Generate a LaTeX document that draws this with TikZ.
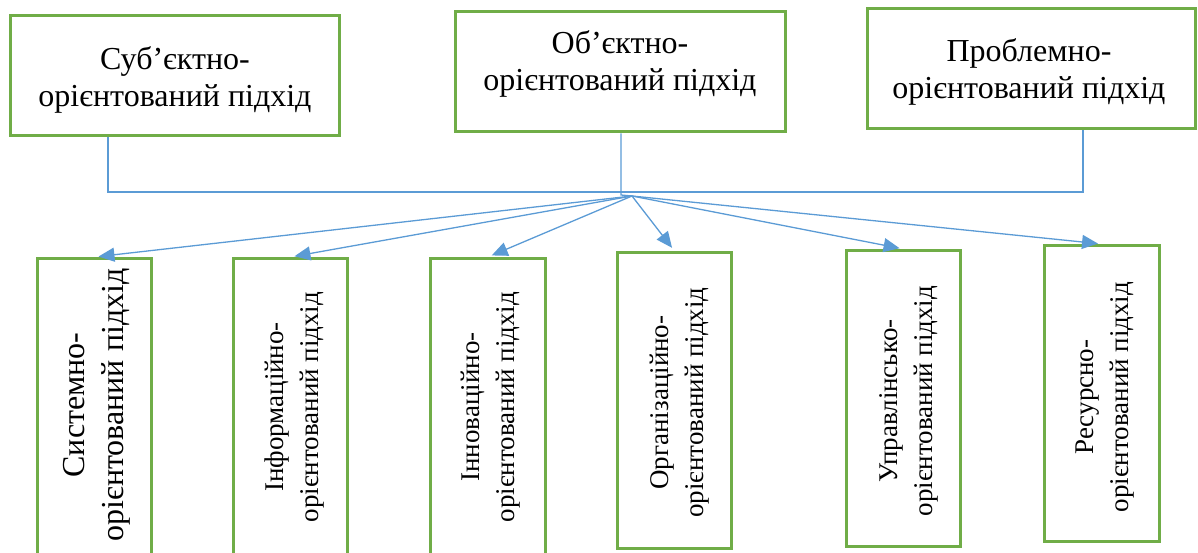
\documentclass[tikz,border=0pt]{standalone}
\usepackage{fontspec}
\setmainfont{Liberation Serif}
\usetikzlibrary{arrows.meta}
\definecolor{boxgreen}{HTML}{70AD47}
\definecolor{linkblue}{HTML}{5B9BD5}
\tikzset{
  box/.style={draw=boxgreen, line width=3pt, rectangle, inner sep=0pt},
  topbox/.style={box, minimum width=330pt, minimum height=120pt},
  lowbox/.style={box, minimum width=114pt, minimum height=296pt},
  bigtext/.style={align=center, inner sep=0pt, font=\fontsize{32}{37}\selectfont},
  vbigtext/.style={align=center, inner sep=0pt, rotate=90, font=\fontsize{32}{39}\selectfont},
  vtext/.style={align=center, inner sep=0pt, rotate=90, font=\fontsize{27}{35}\selectfont},
  link/.style={draw=linkblue, line width=1.3pt},
  arrowlink/.style={link, -{Triangle[length=16pt,width=14pt]}, shorten >=4pt}
}
\begin{document}
\begin{tikzpicture}[x=1pt, y=-1pt]
\useasboundingbox (0,0) rectangle (1198,553);
\clip (0,0) rectangle (1198,553);
% top boxes
\node[topbox, minimum width=329pt] (t1) at (175,75.5) {};
\node[topbox] (t2) at (620.5,72) {};
\node[topbox, minimum width=328pt] (t3) at (1031.5,68.5) {};
\node[bigtext] (t1txt) at (175,80) {Суб’єктно-\\орієнтований підхід};
\node[bigtext] (t2txt) at (620,64) {Об’єктно-\\орієнтований підхід};
\node[bigtext] (t3txt) at (1029,72) {Проблемно-\\орієнтований підхід};
% bottom boxes
\node[lowbox] (b1) at (94.5,406.5) {};
\node[lowbox] (b2) at (290.5,406.5) {};
\node[lowbox, minimum width=115pt] (b3) at (488,406.5) {};
\node[lowbox] (b4) at (674.5,400.5) {};
\node[lowbox] (b5) at (903.5,398.5) {};
\node[lowbox, minimum width=115pt] (b6) at (1102,393.5) {};
\node[vbigtext] (b1txt) at (97,405) {Системно-\\орієнтований підхід};
\node[vtext] (b2txt) at (295,407) {Інформаційно-\\орієнтований підхід};
\node[vtext] (b3txt) at (490.5,407) {Інноваційно-\\орієнтований підхід};
\node[vtext] (b4txt) at (679.5,402.5) {Організаційно-\\орієнтований підхід};
\node[vtext] (b5txt) at (909,401) {Управлінсько-\\орієнтований підхід};
\node[vtext] (b6txt) at (1105.5,397) {Ресурсно-\\орієнтований підхід};
% connectors
\coordinate (j1) at (108,192);
\coordinate (j3) at (1083,192);
\coordinate (j2) at (621,195);
\coordinate (hub) at (632,196);
\draw[link] (t1.south -| j1) -- (j1) -- (j3) -- (t3.south -| j3);
\draw[link] (t2.south -| j2) -- (j2) -- (hub);
\draw[arrowlink] (hub) -- (b1.north);
\draw[arrowlink] (hub) -- (b2.north);
\draw[arrowlink] (hub) -- (b3.north);
\draw[arrowlink] (hub) -- (b4.north);
\draw[arrowlink] (hub) -- (b5.north);
\draw[arrowlink] (hub) -- (b6.north);
\end{tikzpicture}
\end{document}
